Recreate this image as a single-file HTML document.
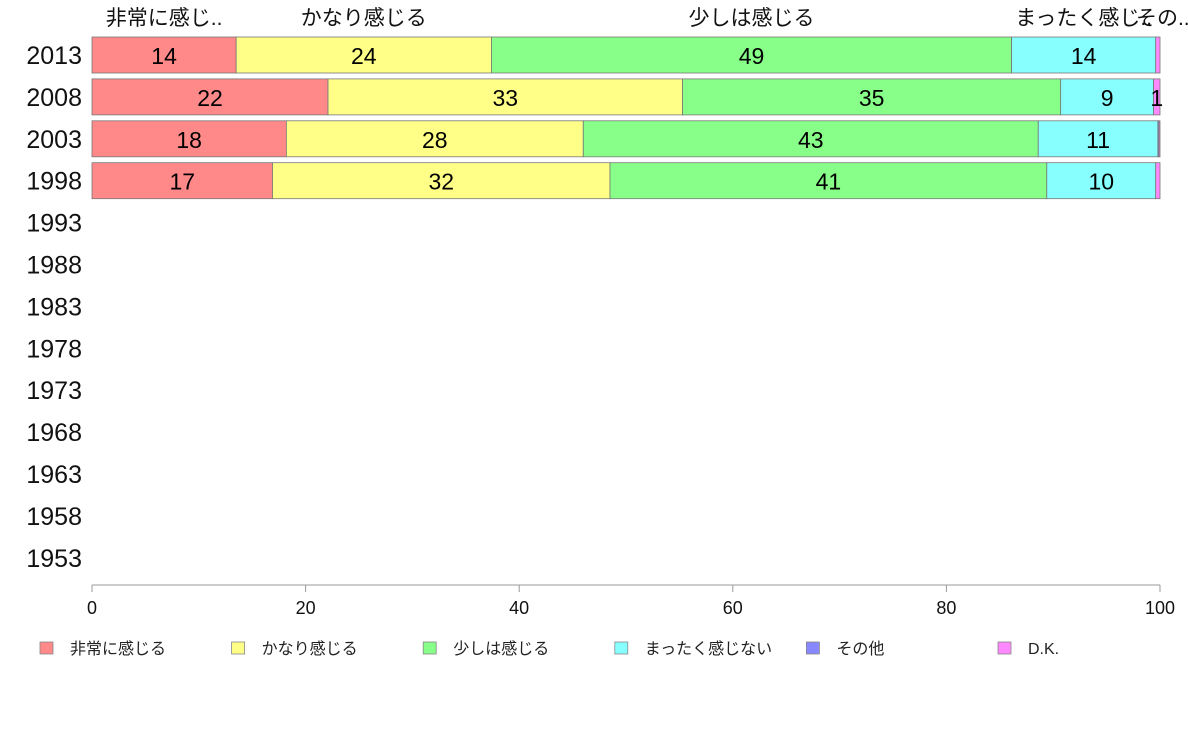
<!DOCTYPE html>
<html><head><meta charset="utf-8"><style>
body{margin:0;background:#fff;}
svg{display:block;font-family:"Liberation Sans","Noto Sans CJK JP",sans-serif;}
</style></head><body>
<svg id="chart" width="1188" height="736" xmlns="http://www.w3.org/2000/svg"></svg>
<script>
const years=["2013","2008","2003","1998","1993","1988","1983","1978","1973","1968","1963","1958","1953"];
const seriesNames=["非常に感じる","かなり感じる","少しは感じる","まったく感じない","その他","D.K."];
const topLabels=["非常に感じ..","かなり感じる","少しは感じる","まったく感じ..","その..."];
const s1=[13.5,22.1,18.2,16.9];
const s2=[23.9,33.2,27.8,31.6];
const s3=[48.7,35.4,42.6,40.9];
const s4=[13.5,8.7,11.2,10.2];
const s5=[0,0,0.1,0];
const s6=[0.4,0.6,0.1,0.4];
const xTicks=[0,20,40,60,80,100];
const colors=["#ff8888","#ffff88","#88ff88","#88ffff","#8888ff","#ff88ff"];
const series=[s1,s2,s3,s4,s5,s6];
const svg=document.getElementById('chart');
const NS="http://www.w3.org/2000/svg";
const x0=92,x1=1160;
const xs=v=>x0+(x1-x0)*v/100;
const yc=i=>55+i*41.9;
function mk(t,a,txt){const e=document.createElementNS(NS,t);for(const k in a)e.setAttribute(k,a[k]);if(txt!==undefined)e.textContent=txt;svg.appendChild(e);return e;}
years.forEach((y,i)=>{
 const t=mk('text',{x:82,y:yc(i)+9,'text-anchor':'end','font-size':25,fill:'#111'},y);
 
 
});
for(let i=0;i<s1.length;i++){
 let acc=0;
 series.forEach((s,j)=>{
  const v=s[i];const a=xs(acc),b=xs(acc+v);
  const r=mk('rect',{x:a,y:yc(i)-18,width:Math.max(b-a,0),height:36,fill:colors[j],stroke:'#777','stroke-width':0.8});
  
  
  if(Math.round(v)>=1){
   const t=mk('text',{x:(a+b)/2,y:yc(i)+9,'text-anchor':'middle','font-size':23,fill:'#000'},Math.round(v));
   
   
  }
  if(i===0 && j<topLabels.length){
   const cx=j===4?(xs(acc)+10):(a+b)/2;
   const t=mk('text',{x:cx,y:25,'text-anchor':'middle','font-size':21,fill:'#111'},topLabels[j]);
   
   
  }
  acc+=v;
 });
}
const ax=mk('line',{x1:x0,y1:585,x2:x1,y2:585,stroke:'#999','stroke-width':1});


xTicks.forEach(v=>{
 const l=mk('line',{x1:xs(v),y1:585,x2:xs(v),y2:592,stroke:'#999'});
 
 
 const t=mk('text',{x:xs(v),y:614,'text-anchor':'middle','font-size':18,fill:'#111'},v);
 
 
});
seriesNames.forEach((n,j)=>{
 const lx=40+j*191.6;
 const r=mk('rect',{x:lx,y:642,width:13,height:12,fill:colors[j],stroke:'#888','stroke-width':0.8});
 
 
 const t=mk('text',{x:lx+30,y:654,'font-size':16,fill:'#222'},n);
 
 
});
</script>
</body></html>
